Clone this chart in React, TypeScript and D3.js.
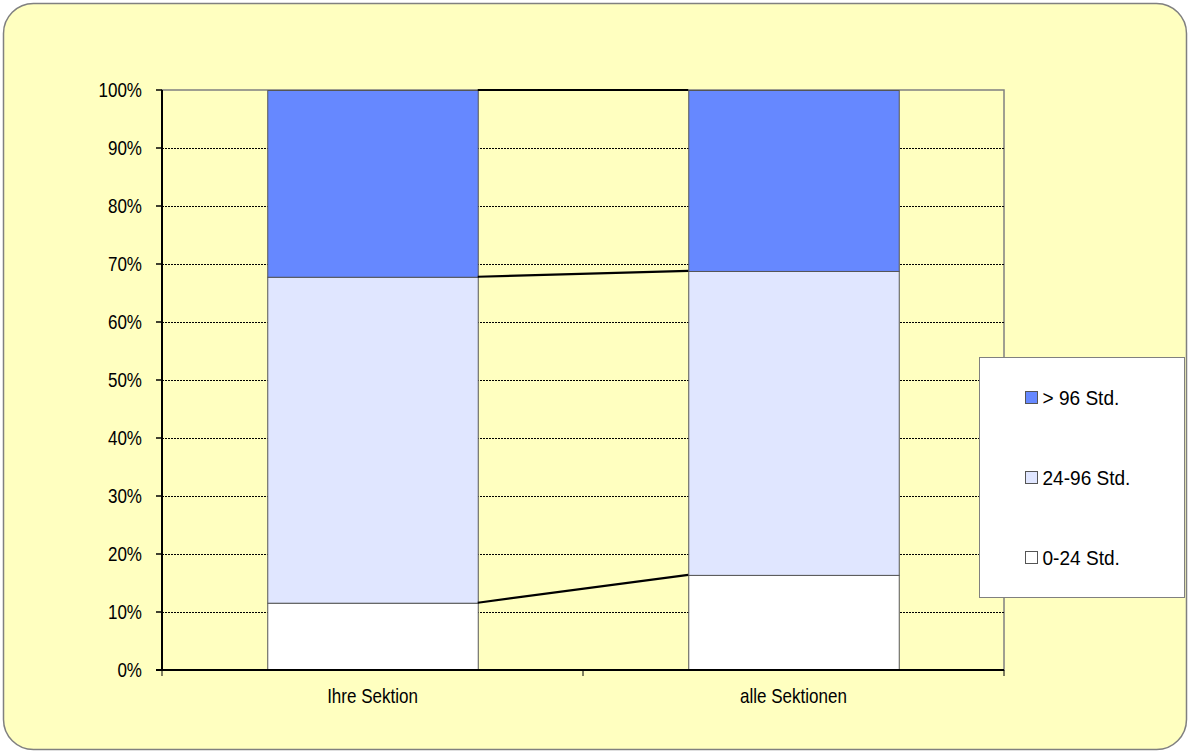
import React from "react";
import * as d3 from "d3";

const categories = ["Ihre Sektion", "alle Sektionen"];
const seriesNames = ["0-24 Std.", "24-96 Std.", "> 96 Std."];
const s0to24 = [11.6, 16.4];
const s24to96 = [56.2, 52.4];
const sOver96 = [32.2, 31.2];
const yTicks = [0, 10, 20, 30, 40, 50, 60, 70, 80, 90, 100];
const colors = ["#FFFFFF", "#E0E6FF", "#6688FF"];

const W = 1190;
const H = 753;
const FONT = "'Liberation Sans', Arial, sans-serif";
const FS = 20.5;
const SX = 0.83;

function NText(props: { x: number; y: number; anchor?: string; children: React.ReactNode; sx?: number }) {
  const { x, y, anchor = "start", children, sx = SX } = props;
  return (
    <text transform={`translate(${x},${y}) scale(${sx},1)`} textAnchor={anchor as any} fontFamily={FONT} fontSize={FS} fill="#000">
      {children}
    </text>
  );
}

export default function App() {
  const left = 162, right = 1004, top = 90, bottom = 670;
  const x = d3.scaleBand<string>().domain(categories).range([left, right]).paddingInner(0.5).paddingOuter(0.25);
  const xOuter = d3.scaleBand<string>().domain(categories).range([left, right]);
  const y = d3.scaleLinear().domain([0, 100]).range([bottom, top]);

  const rows = categories.map((c, i) => ({ cat: c, a: s0to24[i], b: s24to96[i], c: sOver96[i] }));
  const stack = d3.stack<any>().keys(["a", "b", "c"])(rows);

  const bw = x.bandwidth();
  const lines = stack.map((layer) =>
    d3.line<any>()
      .x((d, i) => (i === 0 ? x(categories[0])! + bw : x(categories[1])!))
      .y((d) => y(d[1]))(layer as any)
  );

  return (
    <svg width={W} height={H} style={{ display: "block", position: "absolute", left: 0, top: 0 }}>
      <rect x={3.5} y={3.5} width={W - 7} height={H - 7} rx={30} ry={30} fill="#FFFFC0" stroke="#808080" strokeWidth={1.5} />
      <rect x={left} y={top} width={right - left} height={bottom - top} fill="#FFFFC0" stroke="#808080" strokeWidth={1.5} />
      {yTicks.filter((t) => t > 0 && t < 100).map((t) => (
        <line key={t} x1={left} x2={right} y1={y(t) + 0.5} y2={y(t) + 0.5} stroke="#000" strokeWidth={1} strokeDasharray="2,1" />
      ))}
      {stack.map((layer, li) =>
        layer.map((d, i) => (
          <rect key={li + "-" + i} x={x(categories[i])! + 0.5} y={y(d[1]) + 0.5} width={bw} height={y(d[0]) - y(d[1])}
            fill={colors[li]} stroke="#555" strokeWidth={1} />
        ))
      )}
      {lines.map((p, i) => (
        <path key={i} d={p!} fill="none" stroke="#000" strokeWidth={2.2} />
      ))}
      <line x1={left} x2={left} y1={top} y2={bottom} stroke="#000" strokeWidth={2} />
      <line x1={left - 6} x2={right} y1={bottom} y2={bottom} stroke="#000" strokeWidth={2} />
      {yTicks.map((t) => (
        <g key={t}>
          <line x1={left - 6} x2={left} y1={y(t)} y2={y(t)} stroke="#000" strokeWidth={1.5} />
          <NText x={left - 20} y={y(t) + 7.3} anchor="end">{t}%</NText>
        </g>
      ))}
      {[left, ...categories.map((c) => xOuter(c)! + xOuter.bandwidth())].map((v, i) => (
        <line key={i} x1={v} x2={v} y1={bottom} y2={bottom + 6} stroke="#000" strokeWidth={1} />
      ))}
      {categories.map((c) => (
        <NText key={c} x={xOuter(c)! + xOuter.bandwidth() / 2} y={703.3} anchor="middle">{c}</NText>
      ))}
      <rect x={979.5} y={357.5} width={205} height={240} fill="#FFFFFF" stroke="#808080" strokeWidth={1} />
      {[2, 1, 0].map((si, k) => {
        const base = 405 + k * 80;
        return (
          <g key={si}>
            <rect x={1025.5} y={base - 13.5} width={12} height={12} fill={colors[si]} stroke="#555" strokeWidth={1} />
            <NText x={1042.5} y={base} sx={0.93}>{seriesNames[si]}</NText>
          </g>
        );
      })}
    </svg>
  );
}
